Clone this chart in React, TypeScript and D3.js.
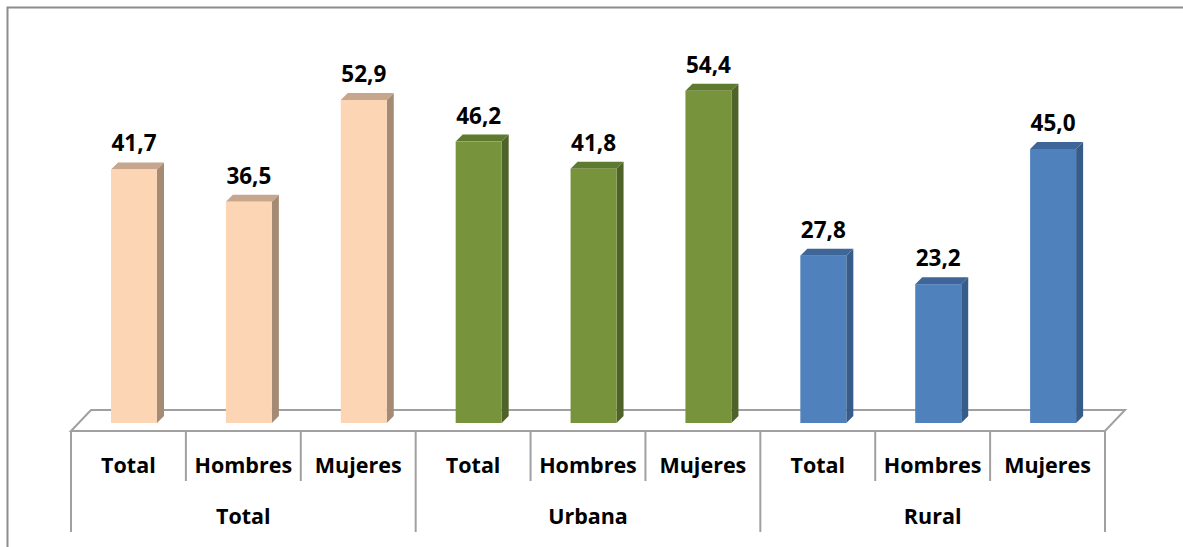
import React from "react";
import * as d3 from "d3";

const categories = ["Total", "Hombres", "Mujeres", "Total", "Hombres", "Mujeres", "Total", "Hombres", "Mujeres"];
const groups = ["Total", "Urbana", "Rural"];
const values = [41.7, 36.5, 52.9, 46.2, 41.8, 54.4, 27.8, 23.2, 45.0];
const valueLabels = ["41,7", "36,5", "52,9", "46,2", "41,8", "54,4", "27,8", "23,2", "45,0"];

const palettes = [
  { front: "#FCD5B5", side: "#A58A74", top: "#C6A78E" },
  { front: "#77933C", side: "#4F6228", top: "#5E7A2E" },
  { front: "#4F81BD", side: "#375C89", top: "#3E6698" },
];

const W = 1183;
const H = 547;
const FONT = "'Open Sans', sans-serif";

export default function App() {
  const x0 = 71;
  const x1 = 1105;
  const floorFront = 431;
  const floorBack = 410;
  const depthX = 20;
  const barBase = 423;
  const x = d3.scaleBand<number>().domain(d3.range(categories.length)).range([x0, x1]).padding(0);
  const gx = d3.scaleBand<number>().domain(d3.range(groups.length)).range([x0, x1]).padding(0);
  const y = d3.scaleLinear().domain([0, 60]).range([428, 428 - 60 * 6.2]);
  const bw = x.bandwidth();
  const barW = 46;
  const barOff = 40;
  const dx = 7;
  const dy = 7;
  const gray = "#A0A0A0";

  return (
    <svg width={W} height={H} style={{ position: "absolute", left: 0, top: 0 }}>
      <rect x={0} y={0} width={W} height={H} fill="#fff" />
      <rect x={7.5} y={7.5} width={W + 10} height={H + 10} fill="none" stroke="#8C8C8C" strokeWidth={2} />
      <path
        d={`M${x0},${floorFront} L${x0 + depthX},${floorBack} L${x1 + depthX},${floorBack} L${x1},${floorFront} Z`}
        fill="none"
        stroke={gray}
        strokeWidth={2}
      />
      {values.map((v, i) => {
        const p = palettes[Math.floor(i / 3)];
        const left = (x(i) as number) + barOff;
        const right = left + barW;
        const top = y(v);
        return (
          <g key={i}>
            <path d={`M${right},${barBase} L${right},${top} L${right + dx},${top - dy} L${right + dx},${barBase - dy} Z`} fill={p.side} />
            <path d={`M${left},${top} L${left + dx},${top - dy} L${right + dx},${top - dy} L${right},${top} Z`} fill={p.top} />
            <rect x={left} y={top} width={barW} height={barBase - top} fill={p.front} />
            <text x={left + barW / 2} y={top - 18} textAnchor="middle" fontFamily={FONT} fontWeight="bold" fontSize={22.5} fill="#000">
              {valueLabels[i]}
            </text>
          </g>
        );
      })}
      <line x1={x0} y1={floorFront} x2={x1} y2={floorFront} stroke={gray} strokeWidth={2} />
      {d3.range(categories.length + 1).map((i) => {
        const xx = i === categories.length ? x1 : (x(i) as number);
        const isGroup = i % 3 === 0;
        return (
          <line key={"s" + i} x1={xx} y1={floorFront} x2={xx} y2={isGroup ? 532 : 481} stroke={gray} strokeWidth={2} />
        );
      })}
      {categories.map((c, i) => (
        <text key={"c" + i} x={(x(i) as number) + bw / 2} y={473} textAnchor="middle" fontFamily={FONT} fontWeight="bold" fontSize={21.5} fill="#000">
          {c}
        </text>
      ))}
      {groups.map((g, i) => (
        <text key={"g" + i} x={(gx(i) as number) + gx.bandwidth() / 2} y={524} textAnchor="middle" fontFamily={FONT} fontWeight="bold" fontSize={21.5} fill="#000">
          {g}
        </text>
      ))}
    </svg>
  );
}
